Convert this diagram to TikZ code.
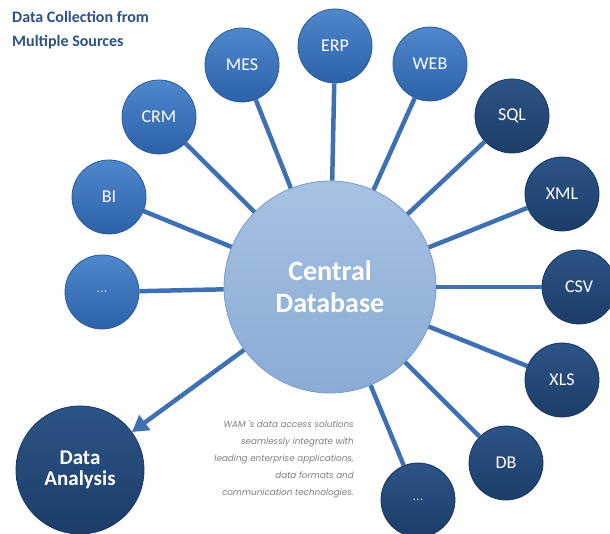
\documentclass[tikz,border=0pt]{standalone}
\usepackage{fontspec}
\setmainfont{Carlito}
\newfontfamily\notefont{Poppins}
\usetikzlibrary{arrows.meta}
\definecolor{lightTop}{HTML}{5088CC}
\definecolor{lightBot}{HTML}{2C61A8}
\definecolor{lightEdge}{HTML}{2A5A9A}
\definecolor{darkTop}{HTML}{2D5487}
\definecolor{darkBot}{HTML}{1C3D68}
\definecolor{darkEdge}{HTML}{17355C}
\definecolor{centTop}{HTML}{A6C2E3}
\definecolor{centBot}{HTML}{8AABD4}
\definecolor{centEdge}{HTML}{7C9DC9}
\definecolor{linkBlue}{HTML}{3E70B3}
\definecolor{titleBlue}{HTML}{2A5287}
\definecolor{noteGray}{HTML}{7F7F7F}
\begin{document}
\begin{tikzpicture}[x=1pt,y=-1pt,
  lightsat/.style={circle, minimum size=74pt, inner sep=0pt, top color=lightTop, bottom color=lightBot, draw=lightEdge, line width=0.8pt, text=white, font=\fontsize{18}{19}\selectfont},
  darksat/.style={circle, minimum size=74pt, inner sep=0pt, top color=darkTop, bottom color=darkBot, draw=darkEdge, line width=0.8pt, text=white, font=\fontsize{18}{19}\selectfont},
  link/.style={draw=linkBlue, line width=4.5pt},
  arrowlink/.style={draw=linkBlue, line width=4.5pt, -{Triangle[length=16pt,width=18pt]}}
]
\useasboundingbox (0,0) rectangle (610,534);
\fill[white] (0,0) rectangle (610,534);

% title
\node[anchor=north west, align=left, text=titleBlue, font=\bfseries\fontsize{16}{24}\selectfont, inner sep=0pt] (title) at (12,11) {Data Collection from\\Multiple Sources};

% central
\node[circle, minimum size=212pt, inner sep=0pt, top color=centTop, bottom color=centBot, draw=centEdge, line width=0.8pt, text=white, align=center, font=\bfseries\fontsize{28}{32}\selectfont] (c) at (330,287) {Central\\Database};

% light satellites
\node[lightsat] (dots1) at (102,292) {\textcolor{white!65!lightTop}{\fontsize{14}{14}\selectfont ...}};
\node[lightsat] (bi) at (109,197) {BI};
\node[lightsat] (crm) at (159,117) {CRM};
\node[lightsat] (mes) at (242,65) {MES};
\node[lightsat] (erp) at (335,46) {ERP};
\node[lightsat] (web) at (430,64) {WEB};

% dark satellites
\node[darksat] (sql) at (512,116) {SQL};
\node[darksat] (xml) at (562,194) {XML};
\node[darksat] (csv) at (579,287) {CSV};
\node[darksat] (xls) at (562,380) {XLS};
\node[darksat] (db) at (506,463) {DB};
\node[darksat] (dots2) at (418,500) {\textcolor{white!65!darkTop}{\fontsize{14}{14}\selectfont ...}};

% data analysis
\node[circle, minimum size=128pt, inner sep=0pt, top color=darkTop, bottom color=darkBot, draw=darkEdge, line width=0.8pt, text=white, align=center, font=\bfseries\fontsize{21}{21}\selectfont] (da) at (80,470) {Data\\Analysis};

% connectors
\foreach \s in {dots1,bi,crm,mes,erp,web,sql,xml,csv,xls,db,dots2}
  \draw[link] (\s) -- (c);
\draw[arrowlink] (c) -- (da);

% note
\node[anchor=north east, align=right, text=noteGray, font=\notefont\itshape\fontsize{8.8}{17}\selectfont, inner sep=0pt] (note) at (354,420) {WAM 's data access solutions\\seamlessly integrate with\\leading enterprise applications,\\data formats and\\communication technologies.};
\end{tikzpicture}
\end{document}
